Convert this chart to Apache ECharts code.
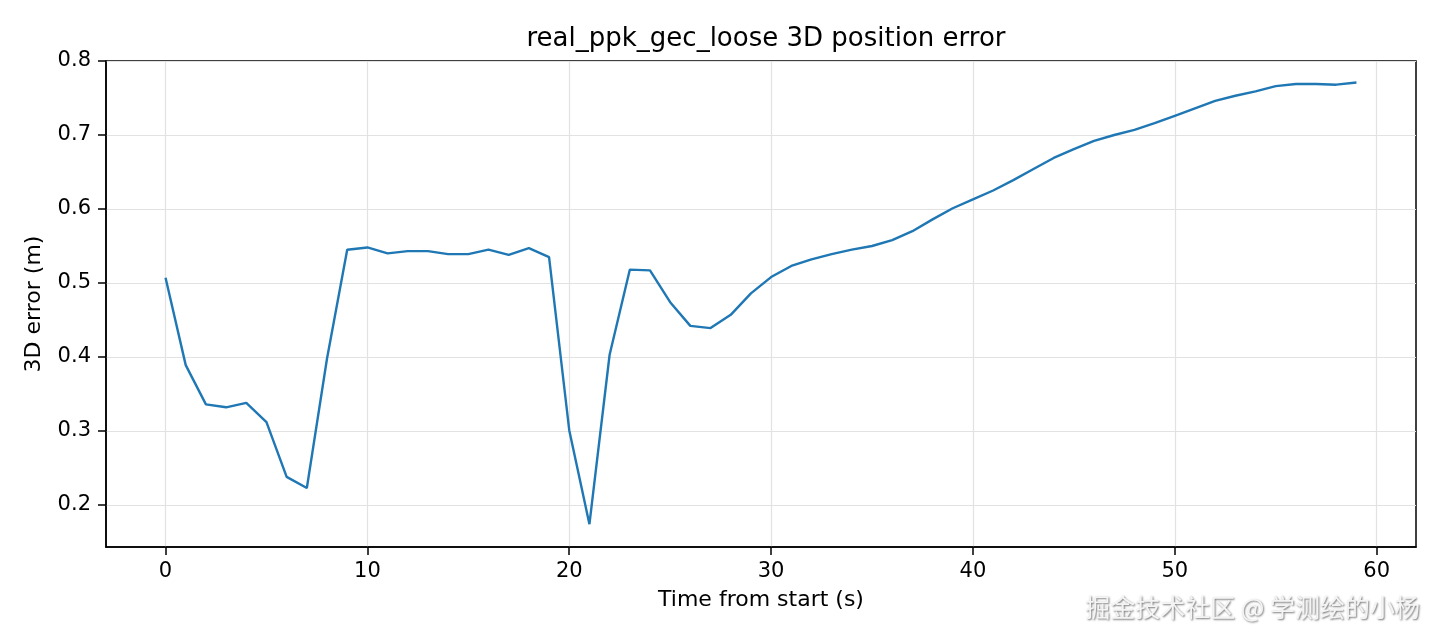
<!DOCTYPE html>
<html>
<head>
	<meta charset="utf-8">
	<title>real_ppk_gec_loose 3D position error</title>
	<script src="https://cdn.jsdelivr.net/npm/echarts@6/dist/echarts.min.js"></script>
	<style>
		html, body { margin: 0; padding: 0; background: #fff; }
		#DIV1 { width: 1440px; height: 640px; }
	</style>
</head>
<body>
	<div id="DIV1"></div>
	<script type="text/javascript">
		// seconds from start
		const timeSec = [];
		for (let i = 0; i < 60; i++) timeSec.push(i);

		// 3D error values (m)
		const error3d = [
			0.507, 0.389, 0.336, 0.332, 0.338, 0.312, 0.238, 0.223, 0.398, 0.545,
			0.548, 0.540, 0.543, 0.543, 0.539, 0.539, 0.545, 0.538, 0.547, 0.535,
			0.301, 0.174, 0.403, 0.518, 0.517, 0.474, 0.442, 0.439, 0.457, 0.486,
			0.508, 0.523, 0.532, 0.539, 0.545, 0.550, 0.558, 0.570, 0.586, 0.601,
			0.613, 0.625, 0.639, 0.654, 0.669, 0.681, 0.692, 0.700, 0.707, 0.716,
			0.726, 0.736, 0.746, 0.753, 0.759, 0.766, 0.769, 0.769, 0.768, 0.771
		];

		const xTicks = [0, 10, 20, 30, 40, 50, 60];
		const yTicks = [0.2, 0.3, 0.4, 0.5, 0.6, 0.7, 0.8];

		const chart = echarts.init(document.getElementById("DIV1"));
		const font = "DejaVu Sans";

		const option = {
			animation: false,
			backgroundColor: "#fff",
			title: {
				text: "real_ppk_gec_loose 3D position error",
				left: 761, top: 21, textAlign: "center",
				textStyle: { fontFamily: font, fontSize: 26, fontWeight: "normal", color: "#000" }
			},
			grid: {
				left: 106, right: 24, top: 61, bottom: 93,
				show: true, borderColor: "#000", borderWidth: 1.5, containLabel: false
			},
			xAxis: {
				type: "value",
				min: -2.95, max: 61.95,
				name: "Time from start (s)",
				nameLocation: "middle", nameGap: 42,
				nameTextStyle: { fontFamily: font, fontSize: 22, color: "#000" },
				axisLine: { show: true, onZero: false, lineStyle: { color: "#000", width: 1.5 } },
				axisTick: { show: true, length: 8, lineStyle: { color: "#000", width: 1.5 }, customValues: xTicks },
				axisLabel: { fontFamily: font, fontSize: 21, color: "#000", margin: 14, customValues: xTicks },
				splitLine: { show: true, lineStyle: { color: "#e2e2e2", width: 1.2 } }
			},
			yAxis: {
				type: "value",
				min: 0.1432, max: 0.8,
				name: "3D error (m)",
				nameLocation: "middle", nameGap: 61, nameRotate: 90,
				nameTextStyle: { fontFamily: font, fontSize: 22, color: "#000" },
				axisLine: { show: true, onZero: false, lineStyle: { color: "#000", width: 1.5 } },
				axisTick: { show: true, length: 8, lineStyle: { color: "#000", width: 1.5 }, customValues: yTicks },
				axisLabel: {
					fontFamily: font, fontSize: 21, color: "#000", margin: 15, customValues: yTicks,
					formatter: function (v) { return v.toFixed(1); }
				},
				splitLine: { show: true, lineStyle: { color: "#e2e2e2", width: 1.2 } }
			},
			series: [{
				type: "line",
				data: timeSec.map(function (t, i) { return [t, error3d[i]]; }),
				showSymbol: false,
				lineStyle: { color: "#1f77b4", width: 2.4 },
				itemStyle: { color: "#1f77b4" }
			}],
			graphic: [{
				type: "text",
				right: 20, bottom: 20,
				style: {
					text: "掘金技术社区 @ 学测绘的小杨",
					font: '25px "Noto Sans CJK SC"',
					fill: "#f4f4f4",
					textShadowColor: "rgba(0,0,0,0.55)",
					textShadowBlur: 2,
					textShadowOffsetX: 1,
					textShadowOffsetY: 1
				}
			}]
		};
		chart.setOption(option);
	</script>
</body>
</html>
